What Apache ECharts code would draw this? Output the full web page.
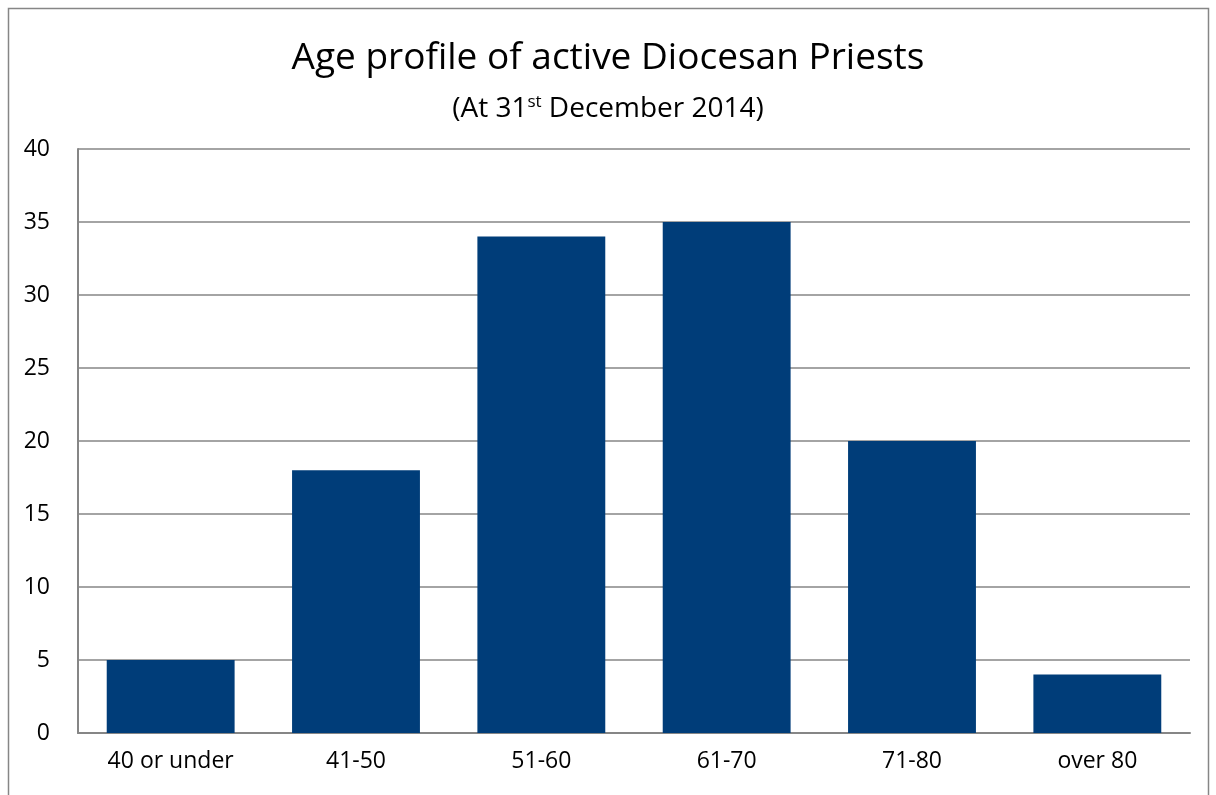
<!DOCTYPE html>
<html>
<head>
<meta charset="utf-8">
<script src="https://cdn.jsdelivr.net/npm/echarts@6/dist/echarts.min.js"></script>
<style>
  html, body { margin: 0; padding: 0; background: #fff; }
  #chart { width: 1216px; height: 795px; }
</style>
</head>
<body>
<div id="chart"></div>
<script>
// data
const ageGroups = ['40 or under', '41-50', '51-60', '61-70', '71-80', 'over 80']
const priestCounts = [5, 18, 34, 35, 20, 4]
const yTicks = [0, 5, 10, 15, 20, 25, 30, 35, 40]

const fontFam = '"Open Sans", "Noto Sans", sans-serif'

let myChart = echarts.init(document.getElementById('chart'))
myChart.setOption({
  animation: false,
  title: {
    text: 'Age profile of active Diocesan Priests',
    subtext: '{a|(At 31}{sup|st}{a| December 2014)}',
    left: 'center',
    top: 35,
    itemGap: 17,
    textStyle: {
      fontFamily: fontFam,
      fontSize: 37,
      fontWeight: 'normal',
      color: '#000'
    },
    subtextStyle: {
      rich: {
        a: { fontFamily: fontFam, fontSize: 28, color: '#000' },
        sup: { fontFamily: fontFam, fontSize: 17, color: '#000', verticalAlign: 'top', padding: [0, 0, 14, 0] }
      }
    }
  },
  graphic: [{
    type: 'rect',
    shape: { x: 8.5, y: 8.5, width: 1200, height: 800 },
    style: { fill: 'none', stroke: '#868686', lineWidth: 1.5 },
    silent: true
  }],
  grid: {
    left: 78,
    right: 26,
    top: 149,
    bottom: 62
  },
  xAxis: {
    type: 'category',
    data: ageGroups,
    axisLine: { lineStyle: { color: '#868686', width: 2 } },
    axisTick: { show: false },
    axisLabel: {
      fontFamily: fontFam,
      fontSize: 23,
      color: '#000',
      margin: 17
    }
  },
  yAxis: {
    type: 'value',
    min: yTicks[0],
    max: yTicks[yTicks.length - 1],
    interval: 5,
    axisLine: { show: true, lineStyle: { color: '#868686', width: 2 } },
    axisTick: { show: false },
    splitLine: { lineStyle: { color: '#868686', width: 1.5 } },
    axisLabel: {
      fontFamily: fontFam,
      fontSize: 23,
      color: '#000',
      margin: 28
    }
  },
  series: [{
    type: 'bar',
    data: priestCounts,
    barWidth: '69%',
    itemStyle: { color: '#003d79' }
  }]
})
</script>
</body>
</html>
